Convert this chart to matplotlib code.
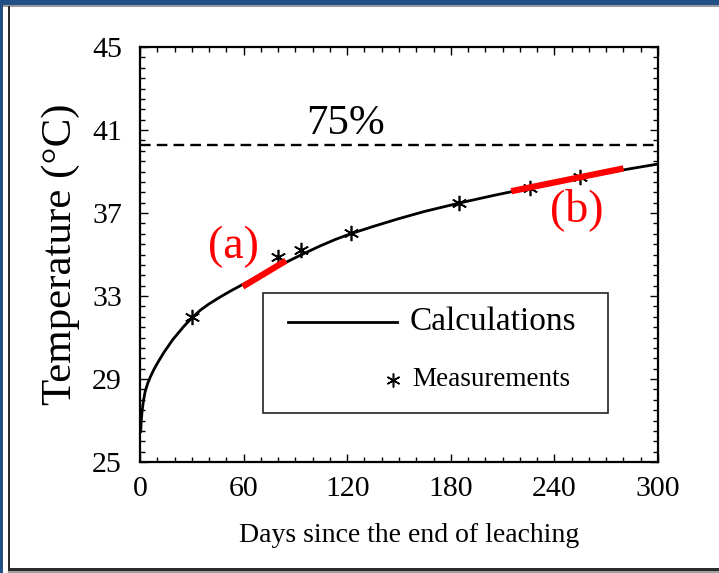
import matplotlib
matplotlib.use("Agg")
import matplotlib.pyplot as plt
from matplotlib.patches import Rectangle
from matplotlib.lines import Line2D
from matplotlib.ticker import MultipleLocator

# ---- data ----
calc_days = [0.4, 0.7, 1.2, 2, 3, 4.5, 6, 8, 10, 12, 14, 16.5, 19, 22, 25, 28, 31, 35, 40, 46,
             52, 60, 68, 76, 84, 93, 104, 113, 122, 135, 150, 165, 186, 205, 225, 240, 255,
             270, 285, 300]
calc_temp = [26.45, 26.95, 27.45, 27.95, 28.4, 28.8, 29.1, 29.45, 29.75, 30.03, 30.3, 30.6,
             30.9, 31.2, 31.5, 31.77, 32.02, 32.32, 32.62, 32.93,
             33.22, 33.58, 33.93, 34.27, 34.6, 34.97, 35.4, 35.72, 36.0, 36.35, 36.73, 37.08,
             37.5, 37.85, 38.2, 38.45, 38.7, 38.93, 39.15, 39.36]
meas_days = [30, 80, 93, 122, 185, 226, 255]
meas_temp = [32.0, 34.9, 35.2, 36.05, 37.5, 38.2, 38.75]
limit_temp = 40.3
limit_label = "75%"
seg_a_days = [59.5, 84.5]
seg_a_temp = [33.45, 34.7]
seg_b_days = [215, 280]
seg_b_temp = [38.05, 39.15]
x_ticks = [0, 60, 120, 180, 240, 300]
y_ticks = [25, 29, 33, 37, 41, 45]

FONT = "Liberation Serif"
plt.rcParams['font.family'] = [FONT, 'DejaVu Serif']

W, H = 719, 573
fig = plt.figure(figsize=(W / 100, H / 100), dpi=100)
fig.patch.set_facecolor("white")

# axes placement in pixels: left 140, right 658, top 47, bottom 462
ax = fig.add_axes([140 / W, 1 - 462 / H, (658 - 140) / W, (462 - 47) / H])

ax.plot(calc_days, calc_temp, color="black", lw=2.0, solid_capstyle="round",
        solid_joinstyle="round", zorder=3)
ax.plot(meas_days, meas_temp, linestyle="none", marker=(6, 2, 0), markersize=11,
        markeredgewidth=1.2, color="black", zorder=4)
ax.axhline(limit_temp, color="black", lw=1.7, linestyle=(0, (4.5, 2.6)), zorder=2)
ax.plot(seg_a_days, seg_a_temp, color="#ff0000", lw=4.5, solid_capstyle="butt", zorder=5)
ax.plot(seg_b_days, seg_b_temp, color="#ff0000", lw=4.5, solid_capstyle="butt", zorder=5)

ax.text(119, limit_temp + 0.05, limit_label, fontsize=31, ha="center", va="bottom", color="black")
ax.text(54, 35.35, "(a)", fontsize=33, ha="center", va="center", color="#ff0000")
ax.text(253, 37.15, "(b)", fontsize=33, ha="center", va="center", color="#ff0000")

ax.set_xlim(0, 300)
ax.set_ylim(25, 45)
ax.set_xticks(x_ticks)
ax.set_yticks(y_ticks)
ax.xaxis.set_minor_locator(MultipleLocator(10))
ax.yaxis.set_minor_locator(MultipleLocator(0.5))
ax.tick_params(which="both", direction="in", top=True, right=True, width=1.0, color="black")
ax.tick_params(which="major", length=6)
ax.tick_params(which="minor", length=3.5)
ax.tick_params(axis="x", which="major", labelsize=21.5, pad=10)
ax.tick_params(axis="y", which="major", labelsize=21.5, pad=13)
for s in ax.spines.values():
    s.set_linewidth(1.6)

ax.set_xlabel("Days since the end of leaching", fontsize=20)
ax.xaxis.set_label_coords(0.52, -0.148)
ax.set_ylabel("Temperature (°C)", fontsize=31)
ax.yaxis.set_label_coords(-0.115, 0.5)

# legend box drawn in axes fraction
x0, x1, y0, y1 = 0.2375, 0.9035, 0.118, 0.407
ax.add_patch(Rectangle((x0, y0), x1 - x0, y1 - y0, transform=ax.transAxes,
                       facecolor="white", edgecolor="#222222", lw=1.2, zorder=6))
ax.add_line(Line2D([0.286, 0.496], [0.337, 0.337], transform=ax.transAxes,
                   color="black", lw=2.0, zorder=7))
ax.text(0.521, 0.337, "Calculations", transform=ax.transAxes, fontsize=24,
        ha="left", va="center", zorder=7)
ax.add_line(Line2D([0.488], [0.198], transform=ax.transAxes, marker=(6, 2, 0),
                   markersize=10, markeredgewidth=1.1, color="black", zorder=7))
ax.text(0.525, 0.198, "Measurements", transform=ax.transAxes, fontsize=19.5,
        ha="left", va="center", zorder=7)

# outer frame
def px_rect(x, y, w, h, color):
    fig.add_artist(Rectangle((x / W, 1 - (y + h) / H), w / W, h / H,
                             transform=fig.transFigure, facecolor=color,
                             edgecolor="none", zorder=10))

blue = "#224f86"
px_rect(0, 0, W, 4.5, blue)
px_rect(0, 4.5, W, 2, "#9a9a9a")
px_rect(0, 0, 2.5, H, blue)
px_rect(7.5, 6, 2.5, 566, "#2b2b2b")
px_rect(7.5, 567.5, W - 7.5, 3.5, "#2b2b2b")
px_rect(7.5, 571, W - 7.5, 2, "#a0a0a0")

fig.savefig("out.png", dpi=100, facecolor="white")
